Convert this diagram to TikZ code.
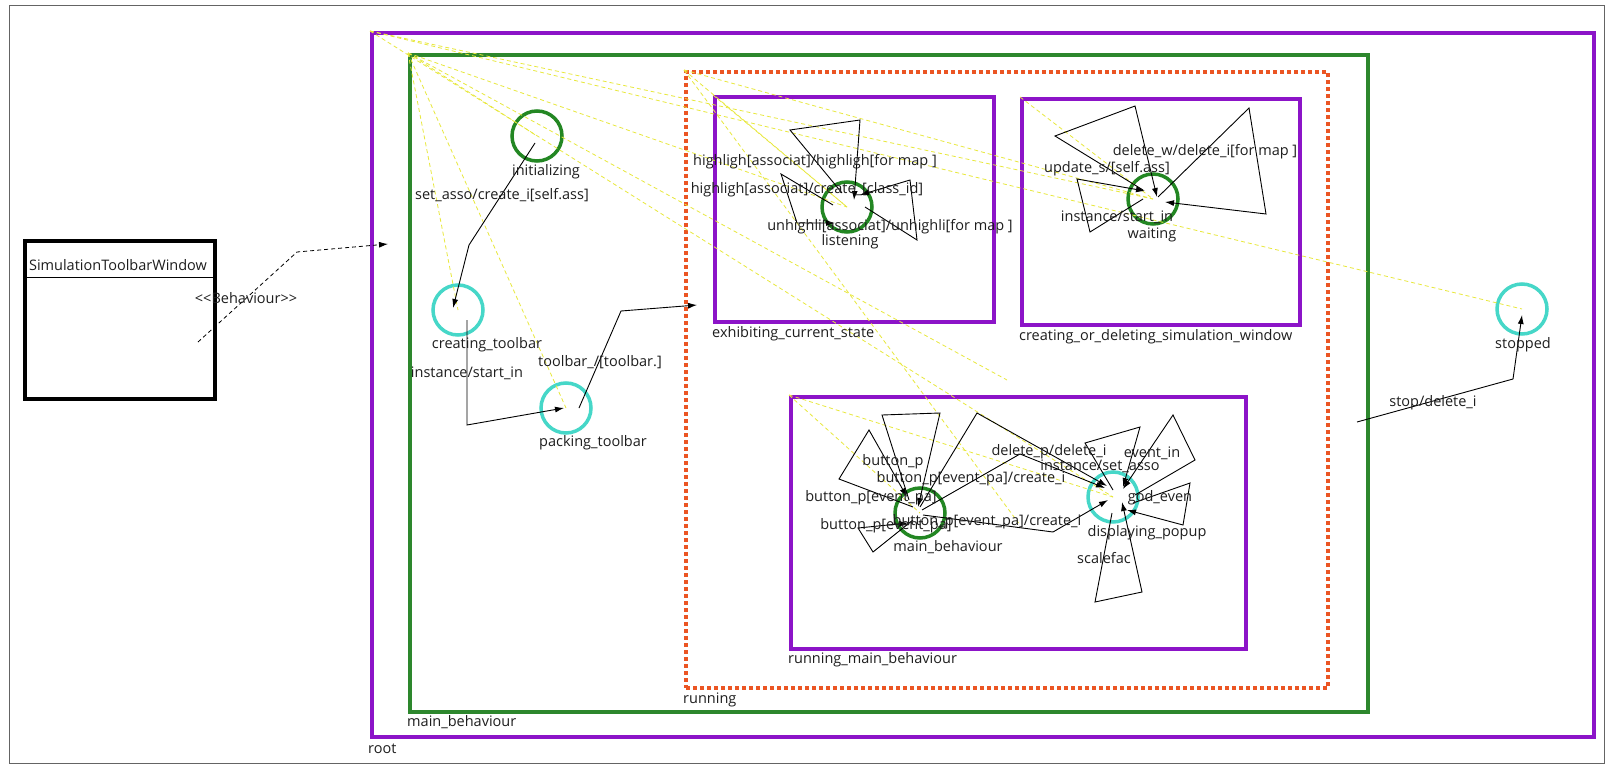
\documentclass[tikz,border=0pt]{standalone}
\usepackage{fontspec}
\setmainfont{Open Sans}
\usetikzlibrary{arrows.meta}
\newcommand\dgmfont{\fontsize{14.5}{17}\selectfont}
\definecolor{framegray}{RGB}{100,100,100}
\definecolor{boxpurple}{RGB}{140,20,200}
\definecolor{boxgreen}{RGB}{45,135,45}
\definecolor{stgreen}{RGB}{35,135,35}
\definecolor{stturq}{RGB}{70,215,200}
\definecolor{runred}{RGB}{235,85,35}
\definecolor{hintyellow}{RGB}{232,232,60}
\definecolor{inkgray}{RGB}{30,30,30}
\tikzset{
  compbox/.style={rectangle, anchor=north west, line width=4pt, inner sep=0pt},
  leafg/.style={circle, draw=stgreen, line width=3.5pt, minimum size=50pt, inner sep=0pt},
  leaft/.style={circle, draw=stturq, line width=3.5pt, minimum size=50pt, inner sep=0pt},
  trans/.style={draw=black, line width=0.9pt, -{Latex[length=9pt,width=6pt]}},
  contain/.style={draw=hintyellow, line width=0.8pt, dash pattern=on 4pt off 3pt},
  lbl/.style={text=inkgray, inner sep=0pt, font=\dgmfont},
  boxname/.style={lbl, anchor=west},
}
\begin{document}
\begin{tikzpicture}[x=1pt,y=-1pt]
\useasboundingbox (0,0) rectangle (1613,768);
\fill[white] (0,0) rectangle (1613,768);
\draw[framegray, line width=1pt] (9,6) rectangle (1604,763);

% class box
\node[compbox, draw=black, minimum width=190pt, minimum height=158pt] (stw) at (23,239) {};
\draw[black, line width=0.8pt] ([yshift=-38pt]stw.north west) -- ([yshift=-38pt]stw.north east);
\node[lbl] (stwname) at (118,265) {SimulationToolbarWindow};

% composite states
\node[compbox, draw=boxpurple, minimum width=1222pt, minimum height=704pt] (root) at (370,31) {};
\node[compbox, draw=boxgreen, minimum width=958pt, minimum height=657pt] (mbox) at (408,53) {};
\node[compbox, draw=runred, dash pattern=on 4pt off 3pt, minimum width=642pt, minimum height=616pt] (running) at (684,70) {};
\node[compbox, draw=boxpurple, minimum width=279pt, minimum height=225pt] (exhib) at (713,95) {};
\node[compbox, draw=boxpurple, minimum width=278pt, minimum height=226pt] (cod) at (1020,97) {};
\node[compbox, draw=boxpurple, minimum width=455pt, minimum height=252pt] (rmb) at (789,395) {};

% simple states
\node[leafg] (initializing) at (537,136) {};
\node[leaft] (creating) at (458,310) {};
\node[leaft] (packing) at (566,408) {};
\node[leafg] (listening) at (847,207) {};
\node[leafg] (waiting) at (1153,199) {};
\node[leafg] (mainst) at (920,513) {};
\node[leaft] (popup) at (1113,497) {};
\node[leaft] (stopped) at (1522,309) {};

% containment hints
\foreach \s in {stopped,waiting,popup}
  \draw[contain] (root.north west) -- (\s.center);
\foreach \s in {initializing,creating,packing,listening}
  \draw[contain] (mbox.north west) -- (\s.center);
\draw[contain] (mbox.north west) -- (running.center);
\foreach \s in {listening,waiting}
  \draw[contain] (running.north west) -- (\s.center);
\draw[contain] (running.north west) -- (rmb.center);
\draw[contain] (exhib.north west) -- (listening.center);
\draw[contain] (cod.north west) -- (waiting.center);
\draw[contain] (rmb.north west) -- (mainst.center);
\draw[contain] (rmb.north west) -- (popup.center);

% behaviour link
\draw[black, line width=0.8pt, dash pattern=on 4pt off 3pt, -{Latex[length=9pt,width=6pt]}]
  ([shift={(-19,103)}]stw.north east) -- (297,252) -- ([shift={(18,213)}]root.north west);
\node[lbl] (behlbl) at (246,298) {<{}<Behaviour>{}>};

% top-level transitions
\draw[trans] ([shift={(-2,7)}]initializing.center) -- (469,245) -- ([shift={(-5,-2)}]creating.center);
\draw[trans] ([shift={(9,10)}]creating.center) -- (467,425) -- ([shift={(-2,0)}]packing.center);
\draw[trans] ([shift={(13,0)}]packing.center) -- (621,311) -- ([shift={(13,235)}]running.north west);
\draw[trans] ([shift={(-13,369)}]mbox.north east) -- (1513,379) -- ([shift={(0,6)}]stopped.center);

% listening loops
\draw[trans] ([shift={(-5,-14)}]listening.center) -- (790,130) -- (860,120) -- ([shift={(7,-7)}]listening.center);
\draw[trans] ([shift={(-14,-2)}]listening.center) -- (781,174) -- (797,223) -- ([shift={(-12,16)}]listening.center);
\draw[trans] ([shift={(18,0)}]listening.center) -- (917,240) -- (910,180) -- ([shift={(13,-12)}]listening.center);

% waiting loops
\draw[trans] ([shift={(-10,-9)}]waiting.center) -- (1055,136) -- (1135,106) -- ([shift={(4,-2)}]waiting.center);
\draw[trans] ([shift={(-10,0)}]waiting.center) -- (1090,232) -- (1077,179) -- ([shift={(-8,-8)}]waiting.center);
\draw[trans] ([shift={(5,-2)}]waiting.center) -- (1249,108) -- (1266,214) -- ([shift={(12,3)}]waiting.center);

% main_behaviour loops and transitions to displaying_popup
\draw[trans] ([shift={(-7,-6)}]mainst.center) -- (839,479) -- (869,430) -- ([shift={(-13,-16)}]mainst.center);
\draw[trans] ([shift={(-11,-13)}]mainst.center) -- (882,415) -- (940,413) -- ([shift={(-2,-6)}]mainst.center);
\draw[trans] ([shift={(-7,7)}]mainst.center) -- (873,552) -- (858,528) -- ([shift={(-12,10)}]mainst.center);
\draw[trans] ([shift={(0,-6)}]mainst.center) -- (977,413) -- ([shift={(-6,-11)}]popup.center);
\draw[trans] ([shift={(2,-3)}]mainst.center) -- (1020,454) -- ([shift={(-8,-9)}]popup.center);
\draw[trans] ([shift={(3,2)}]mainst.center) -- (1053,532) -- ([shift={(-5,3)}]popup.center);

% displaying_popup loops
\draw[trans] ([shift={(0,-7)}]popup.center) -- (1085,443) -- (1140,427) -- ([shift={(10,-10)}]popup.center);
\draw[trans] ([shift={(22,-2)}]popup.center) -- (1195,460) -- (1173,415) -- ([shift={(10,-8)}]popup.center);
\draw[trans] ([shift={(20,6)}]popup.center) -- (1190,483) -- (1183,525) -- ([shift={(14,13)}]popup.center);
\draw[trans] ([shift={(-1,16)}]popup.center) -- (1095,602) -- (1142,592) -- ([shift={(9,5)}]popup.center);

% composite state names
\node[boxname] (rootname) at (368,749) {root};
\node[boxname] (mboxname) at (407,722) {main\_behaviour};
\node[boxname] (runname) at (683,700) {running};
\node[boxname] (exhibname) at (712,334) {exhibiting\_current\_state};
\node[boxname] (codname) at (1019,337) {creating\_or\_deleting\_simulation\_window};
\node[boxname] (rmbname) at (788,660) {running\_main\_behaviour};

% simple state names
\node[lbl] at (546,172) {initializing};
\node[lbl] at (487,345) {creating\_toolbar};
\node[lbl] at (593,443) {packing\_toolbar};
\node[lbl] at (850,242) {listening};
\node[lbl] at (1152,235) {waiting};
\node[lbl] at (948,547) {main\_behaviour};
\node[lbl] at (1147,533) {displaying\_popup};
\node[lbl] at (1523,345) {stopped};

% transition labels
\node[lbl] at (502,195) {set\_asso/create\_i[self.ass]};
\node[lbl] at (467,373) {instance/start\_in};
\node[lbl] at (600,362) {toolbar\_/[toolbar.]};
\node[lbl] at (1433,403) {stop/delete\_i};
\node[lbl] at (815,162) {highligh[associat]/highligh[for map ]};
\node[lbl] at (807,190) {highligh[associat]/create\_[class\_id]};
\node[lbl] at (890,227) {unhighli[associat]/unhighli[for map ]};
\node[lbl] at (1205,152) {delete\_w/delete\_i[for map ]};
\node[lbl] at (1107,169) {update\_s/[self.ass]};
\node[lbl] at (1117,217) {instance/start\_in};
\node[lbl] at (893,462) {button\_p};
\node[lbl] at (971,479) {button\_p[event\_pa]/create\_i};
\node[lbl] at (871,498) {button\_p[event\_pa]};
\node[lbl] at (886,526) {button\_p[event\_pa]};
\node[lbl] at (987,522) {button\_p[event\_pa]/create\_i};
\node[lbl] at (1049,452) {delete\_p/delete\_i};
\node[lbl] at (1100,466) {instance/set\_asso};
\node[lbl] at (1152,453) {event\_in};
\node[lbl] at (1160,498) {god\_even};
\node[lbl] at (1104,558) {scalefac};
\end{tikzpicture}
\end{document}
